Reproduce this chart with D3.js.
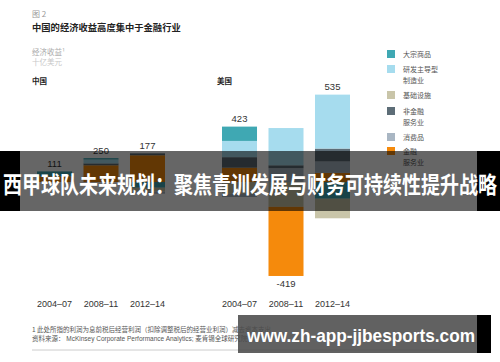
<!DOCTYPE html>
<html>
<head>
<meta charset="utf-8">
<style>
  body { margin: 0; background: #fff; }
  text { font-family: "Liberation Sans", Arial, "Noto Sans CJK SC", sans-serif; }
  .cjk { font-family: "Noto Sans CJK SC", sans-serif; }
</style>
</head>
<body>
<svg width="500" height="362"></svg>
<script src="https://cdn.jsdelivr.net/npm/d3@7"></script>
<script>
// periods on the x axis, same for both panels
var periods = ["2004–07", "2008–11", "2012–14"];

// sectors, stacked from the bottom up (legend shows them top-down)
var sectors = ["金融服务业", "消费品", "非金融服务业", "基础设施", "研发主导型制造业", "大宗商品"];
var sectorColors = ["#f58a0c", "#a9b6c3", "#5d6d77", "#c9c5a9", "#a6dcee", "#3fa8b3"];
var legendLines = [["金融", "服务业"], ["消费品"], ["非金融", "服务业"], ["基础设施"], ["研发主导型", "制造业"], ["大宗商品"]];

// economic profit by sector, one row per sector (same order as sectors), one column per period
var chinaValues = [
  [60, 175, 280],
  [0, 0, -23],
  [0, 20, 20],
  [0, 0, -40],
  [0, 40, 0],
  [51, 15, -60]
];
var usValues = [
  [150, -724, 95],
  [-32, 145, 120],
  [110, 30, 135],
  [-125, -260, -205],
  [170, 390, 565],
  [150, 0, -175]
];
var chinaTotals = [111, 250, 177];
var usTotals = [423, -419, 535];

var svg = d3.select("svg");

var y = d3.scaleLinear().domain([-1000, 1000]).range([277.5, 86.5]);

// stack positives upward, negatives downward (negatives in legend order)
function stackBars(values) {
  var segs = [];
  periods.forEach(function(p, j) {
    var up = 0, down = 0;
    sectors.forEach(function(s, i) {
      var v = values[i][j];
      if (v > 0) { segs.push({period: p, sector: i, y0: up, y1: up + v}); up += v; }
    });
    for (var i = sectors.length - 1; i >= 0; i--) {
      var v = values[i][j];
      if (v < 0) { segs.push({period: p, sector: i, y0: down + v, y1: down}); down += v; }
    }
    segs.push({period: p, top: up, bottom: down, total: true});
  });
  return segs;
}

function panel(x0, name, values, totals) {
  var x = d3.scaleBand().domain(periods).range([x0, x0 + 128]).paddingInner(0.247).paddingOuter(0);
  var g = svg.append("g");
  var segs = stackBars(values);

  g.selectAll("rect")
    .data(segs.filter(function(d) { return !d.total; }))
    .enter().append("rect")
    .attr("x", function(d) { return x(d.period); })
    .attr("width", x.bandwidth())
    .attr("y", function(d) { return y(d.y1); })
    .attr("height", function(d) { return y(d.y0) - y(d.y1); })
    .attr("fill", function(d) { return sectorColors[d.sector]; });

  var ends = segs.filter(function(d) { return d.total; });
  g.selectAll("text.total")
    .data(ends)
    .enter().append("text")
    .attr("class", "total")
    .attr("x", function(d) { return x(d.period) + x.bandwidth() / 2; })
    .attr("y", function(d, i) { return totals[i] >= 0 ? y(d.top) - 4.5 : y(d.bottom) + 11; })
    .attr("text-anchor", "middle")
    .attr("font-size", 9.5)
    .attr("fill", "#333")
    .text(function(d, i) { return totals[i]; });

  g.selectAll("text.period")
    .data(periods)
    .enter().append("text")
    .attr("class", "period")
    .attr("x", function(d) { return x(d) + x.bandwidth() / 2; })
    .attr("y", 307)
    .attr("text-anchor", "middle")
    .attr("font-size", 9)
    .attr("fill", "#333")
    .text(function(d) { return d; });

  g.append("text")
    .attr("class", "cjk")
    .attr("x", x0 - 5)
    .attr("y", 84)
    .attr("font-size", 7.5)
    .attr("font-weight", "bold")
    .attr("fill", "#222")
    .text(name);
}

// header texts
svg.append("text").attr("class", "cjk").attr("x", 32).attr("y", 17)
  .attr("font-size", 8).attr("fill", "#999").text("图 2");
svg.append("text").attr("class", "cjk").attr("x", 32).attr("y", 30.5)
  .attr("font-size", 9.3).attr("font-weight", "bold").attr("fill", "#222")
  .text("中国的经济收益高度集中于金融行业");
svg.append("text").attr("class", "cjk").attr("x", 32).attr("y", 55)
  .attr("font-size", 7.5).attr("fill", "#aaa").text("经济收益¹");
svg.append("text").attr("class", "cjk").attr("x", 32).attr("y", 64.5)
  .attr("font-size", 7.5).attr("fill", "#c8c8c8").text("十亿美元");

panel(37, "中国", chinaValues, chinaTotals);
panel(222, "美国", usValues, usTotals);

// legend, drawn top-down
var legend = svg.append("g");
var legendTops = [147, 133, 107, 91, 65, 50];
sectors.forEach(function(s, i) {
  legend.append("rect")
    .attr("x", 387).attr("y", legendTops[i]).attr("width", 8).attr("height", 8)
    .attr("fill", sectorColors[i]);
  legendLines[i].forEach(function(line, k) {
    legend.append("text").attr("class", "cjk")
      .attr("x", 403).attr("y", legendTops[i] + 7 + k * 11)
      .attr("font-size", 7).attr("fill", "#555")
      .text(line);
  });
});

// footnotes
svg.append("text").attr("class", "cjk").attr("x", 32).attr("y", 332)
  .attr("font-size", 6.5).attr("fill", "#555")
  .text("1 此处所指的利润为息前税后经营利润（扣除调整税后的经营业利润）减去资本支出");
svg.append("text").attr("x", 32).attr("y", 341)
  .attr("font-size", 6.5).attr("fill", "#555")
  .text("资料来源： McKinsey Corporate Performance Analytics; 麦肯锡全球研究院分析");
svg.append("line").attr("x1", 32).attr("x2", 440).attr("y1", 350).attr("y2", 350)
  .attr("stroke", "#ccc").attr("stroke-width", 1);

// title banner over the chart
svg.append("rect").attr("x", 0).attr("y", 151).attr("width", 500).attr("height", 60)
  .attr("fill", "rgba(0,0,0,0.6)");
svg.append("rect").attr("x", 0).attr("y", 151).attr("width", 20).attr("height", 60).attr("fill", "#000");
svg.append("rect").attr("x", 477).attr("y", 151).attr("width", 23).attr("height", 60).attr("fill", "#000");
svg.append("text").attr("class", "cjk").attr("x", 3).attr("y", 193)
  .attr("font-size", 23).attr("font-weight", "bold").attr("fill", "#fff")
  .attr("textLength", 494).attr("lengthAdjust", "spacingAndGlyphs")
  .text("西甲球队未来规划：聚焦青训发展与财务可持续性提升战略");

// site watermark
svg.append("rect").attr("x", 238).attr("y", 315).attr("width", 239).attr("height", 38)
  .attr("fill", "rgba(75,75,75,0.88)");
svg.append("rect").attr("x", 477).attr("y", 315).attr("width", 14).attr("height", 38).attr("fill", "#000");
svg.append("text").attr("x", 247).attr("y", 342)
  .attr("font-family", "DejaVu Sans").attr("font-size", 19).attr("font-weight", "bold").attr("fill", "#fff")
  .attr("textLength", 228).attr("lengthAdjust", "spacingAndGlyphs")
  .text("www.zh-app-jjbesports.com");
</script>
</body>
</html>
